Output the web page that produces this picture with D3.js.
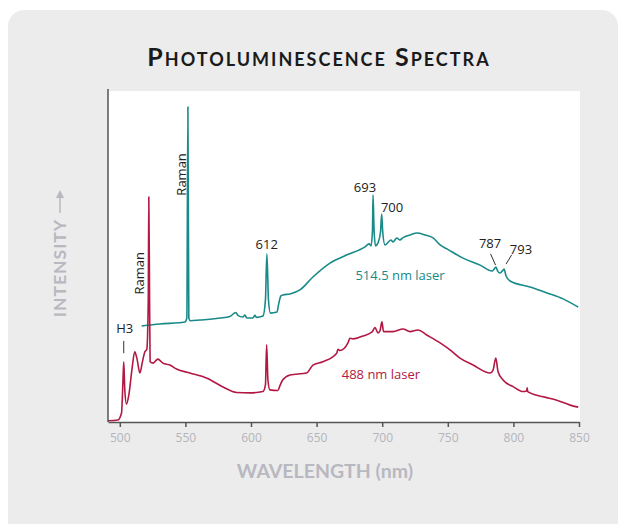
<!DOCTYPE html>
<html>
<head>
<meta charset="utf-8">
<script src="https://cdn.jsdelivr.net/npm/d3@7"></script>
<style>
body {
  margin: 0;
  background-color: white;
}
.axis path,
.axis line {
  fill: none;
  stroke: #555;
  stroke-width: 1.5;
}
.axis text {
  font-family: "Open Sans", sans-serif;
  font-size: 12px;
  fill: #b4b4bc;
}
.note {
  font-family: "Open Sans", sans-serif;
  font-size: 13px;
  fill: #222;
}
</style>
</head>
<body>
<script>

// 488 nm laser spectrum: wavelength (nm), intensity (arbitrary units)
const wl488 = [491, 498.5, 501.3, 502.3, 503, 503.8, 505.1, 506.9, 509.2, 511.4, 513, 515.3, 517.2, 519.1, 520.6, 521.7, 522.1, 522.7, 523.1, 525.4, 529, 532.8, 538.1, 543.2, 553.4, 566.1, 578.6, 589, 599.2, 609.1, 611, 611.9, 612.9, 614.4, 620.5, 622, 624.1, 629.7, 642.4, 647.2, 654.8, 665.3, 666.3, 667.8, 673.9, 675.4, 677.7, 685.4, 692.3, 694.5, 696.8, 698.3, 699.8, 701, 708.2, 715.9, 721.2, 727.3, 733.9, 744.1, 751.7, 759.3, 769.3, 782.2, 784.5, 786.6, 788.3, 792.1, 799.8, 807.4, 810.1, 810.5, 810.9, 812.7, 822.7, 833.1, 843.3, 849.4];
const int488 = [0.4, 0.6, 2.7, 11.2, 18.2, 9.7, 5.4, 8.2, 15.7, 21.2, 19.3, 14.8, 18.1, 21.2, 22, 36.9, 68, 36.9, 18.2, 17.8, 19, 17.8, 17.2, 16, 14.8, 13.3, 10.6, 8.9, 8.8, 9.2, 11.2, 23.3, 12.7, 9.7, 9.5, 10.9, 12.7, 14.2, 14.8, 17.2, 18.2, 20.8, 22, 21.6, 23.9, 25.3, 25.1, 26, 27.2, 28.5, 26.9, 27.5, 30.3, 27.3, 27.3, 28.1, 27.3, 27.8, 26.3, 23.9, 21.8, 19.3, 17.2, 14.8, 15.7, 19.3, 15.2, 12.7, 10.7, 9.2, 9.4, 10.3, 9.2, 8.8, 7.6, 6.6, 5.1, 4.5];

// 514.5 nm laser spectrum
const wl514 = [516.6, 530.5, 549.6, 551.1, 551.9, 552.6, 553.8, 561, 576.3, 583.9, 588.5, 590, 593.8, 595.3, 596.9, 601.4, 603, 604.1, 609.1, 611, 612.1, 613.3, 614.8, 619.8, 620.9, 622.8, 624.3, 629.7, 637.3, 647.2, 660.2, 673.2, 686.9, 690, 691.5, 692.6, 693, 693.8, 694.9, 696.8, 698.7, 699.6, 700.4, 702.1, 706.7, 708.2, 711.2, 713.5, 715.9, 721.2, 726.6, 732.7, 738.8, 744.1, 749.4, 761.6, 774.6, 783.8, 785.3, 786.7, 788, 789.9, 792.1, 792.9, 794.4, 797.5, 812.7, 825.7, 837.9, 849.4];
const int514 = [29, 29.6, 30.2, 31.4, 95.2, 31.4, 30.6, 30.8, 31.4, 31.9, 33.1, 32.2, 31.7, 32.3, 31.4, 31.4, 32.2, 31.6, 32, 36.9, 50.8, 36.9, 32.9, 33.2, 35.3, 38.1, 38.4, 38.7, 39.9, 43.8, 48, 50.5, 52.9, 53.8, 53.2, 58, 68.6, 58, 53.2, 54.1, 57.4, 62.8, 57.4, 53.5, 55, 54.4, 55.6, 55, 55.7, 56.5, 57.1, 56.5, 55.6, 53.5, 52.3, 49.5, 47.4, 45.6, 46.2, 46.8, 45.6, 45, 45.9, 46.2, 44.1, 42.6, 40.8, 39, 37.2, 34.7];

const xTicks = [500, 550, 600, 650, 700, 750, 800, 850];

// peak labels: text, wavelength, intensity
const noteText = ["612", "693", "700", "787", "793", "H3"];
const noteWl   = [612, 686.9, 707.5, 782.2, 805.8, 503.8];
const noteInt  = [53.6, 71, 64.8, 53.8, 52, 28.4];

const ramanWl  = [546.9, 515.3];
const ramanInt = [74.8, 44.9];

const series = [
  {name: "514.5 nm laser", wl: wl514, val: int514, color: "#188a88", labelWl: 713.6, labelInt: 44.4},
  {name: "488 nm laser", wl: wl488, val: int488, color: "#b21843", labelWl: 699, labelInt: 14.5}
];

const W = 618, H = 524;
const svg = d3.select("body").append("svg")
  .attr("width", W)
  .attr("height", H);

// grey card
svg.append("rect")
  .attr("x", 8).attr("y", 10)
  .attr("width", 610).attr("height", 540)
  .attr("rx", 16)
  .attr("fill", "#ececec");

const pLeft = 108, pRight = 580, pTop = 91, pBottom = 422;

const x = d3.scaleLinear().domain([491, 850]).range([pLeft, 579]);
const y = d3.scaleLinear().domain([0, 100]).range([pBottom, pTop]);

svg.append("rect")
  .attr("x", pLeft).attr("y", pTop)
  .attr("width", pRight - pLeft).attr("height", pBottom - pTop)
  .attr("fill", "white");

svg.append("text")
  .attr("x", 319).attr("y", 66)
  .attr("text-anchor", "middle")
  .style("font-family", "Lato, sans-serif")
  .style("font-weight", "bold")
  .style("font-variant", "small-caps")
  .style("font-size", "25px")
  .style("letter-spacing", "2px")
  .attr("fill", "#1a1a1a")
  .text("Photoluminescence Spectra");

const line = d3.line()
  .x(d => x(d[0]))
  .y(d => y(d[1]))
  .curve(d3.curveMonotoneX);

series.forEach(s => {
  const pts = s.wl.map((w, i) => [w, s.val[i]]);
  svg.append("path")
    .datum(pts)
    .attr("d", line)
    .attr("fill", "none")
    .attr("stroke", s.color)
    .attr("stroke-width", 1.6)
    .attr("stroke-linejoin", "round");
  svg.append("text")
    .attr("x", x(s.labelWl)).attr("y", y(s.labelInt))
    .attr("dy", "0.35em")
    .attr("text-anchor", "middle")
    .style("font-family", "Open Sans, sans-serif")
    .style("font-size", "13px")
    .attr("fill", s.color)
    .text(s.name);
});

// axes
const xAxis = d3.axisBottom(x)
  .tickValues(xTicks)
  .tickSize(5)
  .tickSizeOuter(0)
  .tickPadding(6);

svg.append("g")
  .attr("class", "axis")
  .attr("transform", `translate(0, ${pBottom})`)
  .call(xAxis);

svg.append("line")
  .attr("x1", pLeft).attr("x2", pLeft)
  .attr("y1", pTop - 2).attr("y2", pBottom)
  .attr("stroke", "#555")
  .attr("stroke-width", 1.5);

// peak notes
noteText.forEach((t, i) => {
  svg.append("text")
    .attr("class", "note")
    .attr("x", x(noteWl[i])).attr("y", y(noteInt[i]))
    .attr("dy", "0.35em")
    .attr("text-anchor", "middle")
    .text(t);
});

ramanWl.forEach((w, i) => {
  svg.append("text")
    .attr("class", "note")
    .attr("transform", `translate(${x(w)}, ${y(ramanInt[i])}) rotate(-90)`)
    .attr("dy", "0.35em")
    .attr("text-anchor", "middle")
    .text("Raman");
});

// leader lines [wl1, int1, wl2, int2]
const leaders = [[503, 24.5, 503, 20.8], [782.6, 50.8, 786.4, 47.4], [798.7, 50.5, 794.4, 47.7]];
svg.selectAll(".leader").data(leaders).enter()
  .append("line")
  .attr("x1", d => x(d[0])).attr("y1", d => y(d[1]))
  .attr("x2", d => x(d[2])).attr("y2", d => y(d[3]))
  .attr("stroke", "#333")
  .attr("stroke-width", 1);

// axis titles
svg.append("text")
  .attr("x", 325).attr("y", 478)
  .attr("text-anchor", "middle")
  .style("font-family", "Lato, sans-serif")
  .style("font-weight", "bold")
  .style("font-size", "19.5px")
  .attr("fill", "#b8b8c0")
  .text("WAVELENGTH (nm)");

const yl = svg.append("g").attr("transform", "translate(66, 268) rotate(-90)");
yl.append("text")
  .attr("x", 0).attr("y", 0)
  .attr("text-anchor", "middle")
  .style("font-family", "Lato, sans-serif")
  .style("font-weight", "bold")
  .style("font-size", "17.5px")
  .style("letter-spacing", "1px")
  .attr("fill", "#b8b8c0")
  .text("INTENSITY");
yl.append("line")
  .attr("x1", 55).attr("x2", 76)
  .attr("y1", -6).attr("y2", -6)
  .attr("stroke", "#b8b8c0")
  .attr("stroke-width", 1.5);
yl.append("path")
  .attr("d", "M78,-6 L70,-10 L70,-2 Z")
  .attr("fill", "#b8b8c0");

</script>
</body>
</html>
